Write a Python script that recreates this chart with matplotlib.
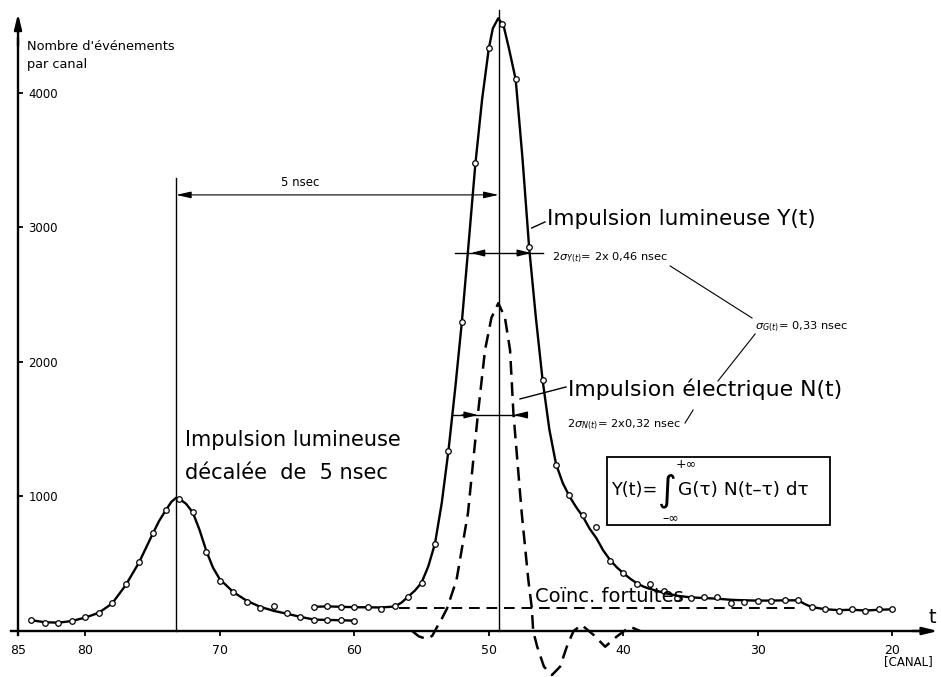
import matplotlib.pyplot as plt
from matplotlib.patches import Rectangle

# channel numbers and counts
left_ch = [84, 83, 82, 81, 80, 79, 78, 77, 76, 75, 74, 73, 72, 71, 70, 69, 68, 67, 66, 65, 64, 63, 62, 61, 60]
left_val = [82, 62, 62, 74, 102, 131, 206, 347, 511, 726, 900, 981, 882, 590, 374, 288, 218, 169, 188, 131, 106, 82, 82, 82, 77]

main_ch = [63, 62, 61, 60, 59, 58, 57, 56, 55, 54, 53, 52, 51, 50, 49, 48, 47, 46, 45, 44, 43, 42,
           41, 40, 39, 38, 37, 36, 35, 34, 33, 32, 31, 30, 29, 28, 27, 26, 25, 24, 23, 22, 21, 20]
main_val = [180, 188, 180, 175, 180, 165, 187, 255, 359, 644, 1338, 2300, 3477, 4337, 4513, 4104, 2853, 1866, 1234, 1011, 862, 776,
            520, 434, 347, 349, 297, 248, 248, 255, 255, 210, 218, 223, 223, 228, 228, 176, 161, 149, 164, 149, 161, 161]

# hand-drawn fitted curves
left_curve_ch = [84, 83, 82, 81, 80, 79, 78, 77, 76, 75, 74.5, 74, 73.6, 73.25, 72.9, 72.5, 72, 71.5, 71, 70.5, 70,
                 69, 68, 67, 66, 65, 64, 63, 62, 61, 60]
left_curve_val = [80, 65, 62, 74, 100, 135, 205, 340, 510, 720, 820, 900, 960, 990, 975, 945, 880, 750, 595, 470, 385,
                  290, 225, 180, 150, 128, 105, 85, 82, 80, 77]

main_curve_ch = [63, 62, 61, 60, 59, 58, 57, 56.5, 56, 55.5, 55, 54.5, 54, 53.5, 53, 52.5, 52, 51.5, 51, 50.5, 50, 49.7,
                 49.3, 48.9, 48.5, 48, 47.5, 47, 46.5, 46, 45.5, 45, 44.5, 44, 43.5, 43, 42.5, 42, 41.5, 41, 40.5, 40,
                 39.5, 39, 38.5, 38, 37, 36, 35, 34, 33, 32, 31, 30, 29, 28, 27, 26.5, 26, 25, 24, 23, 22, 21, 20]
main_curve_val = [180, 183, 180, 177, 176, 175, 182, 210, 255, 300, 359, 480, 650, 950, 1340, 1800, 2300, 2880, 3470, 3950, 4330, 4480,
                  4555, 4500, 4330, 4100, 3520, 2850, 2330, 1866, 1500, 1240, 1100, 1000, 920, 850, 760, 690, 600, 530, 475, 430,
                  390, 355, 330, 312, 285, 262, 250, 245, 240, 232, 228, 226, 226, 228, 228, 200, 178, 162, 155, 158, 152, 158, 161]

elec_ch = [55.7, 55.2, 54.6, 54.2, 53.9, 53.5, 53.1, 52.4, 51.55, 50.8, 50.28, 49.8, 49.29, 48.8, 48.42, 48.17, 47.55, 47.06,
           46.8, 46.7, 46.4, 45.9, 45.3, 44.7, 44.2, 43.7, 43.1, 42.2, 41.35, 40.5, 39.5, 38.75]
elec_val = [0, -40, -60, -35, 20, 90, 169, 379, 875, 1621, 2089, 2330, 2437, 2330, 2089, 1621, 875, 379,
            169, 0, -117, -265, -327, -265, -117, 0, 45, -30, -117, -42, 32, 0]

fortuit_ch = [56.7, 27]
fortuit_val = [169, 169]

peak_left = 73.25
peak_main = 49.27

x_ticks = [85, 80, 70, 60, 50, 40, 30, 20]
y_ticks = [1000, 2000, 3000, 4000]

fig = plt.figure(figsize=(9.41, 6.77), dpi=100)
ax = fig.add_axes([0, 0, 1, 1])
ax.set_xlim(86.34, 16.38)
ax.set_ylim(-342, 4691)

# axes drawn through the origin, y labels on the inside
for s in ['left', 'top']:
    ax.spines[s].set_visible(False)
ax.spines['right'].set_position(('data', 85))
ax.spines['bottom'].set_position(('data', 0))
ax.spines['right'].set_bounds(-30, 4400)
ax.spines['bottom'].set_bounds(85.5, 18)
for s in ['right', 'bottom']:
    ax.spines[s].set_linewidth(1.7)
ax.yaxis.tick_right()
ax.set_xticks(x_ticks)
ax.set_yticks(y_ticks)
ax.tick_params(axis='x', direction='out', length=3.5, width=1.3, pad=6, labelsize=9)
ax.tick_params(axis='y', direction='out', length=3.5, width=1.3, pad=4, labelsize=8.5)
ax.annotate('', xy=(85, 4590), xytext=(85, 4350),
            arrowprops=dict(arrowstyle='-|>,head_length=0.9,head_width=0.22', lw=1.7, color='k', shrinkA=0, shrinkB=0))
ax.annotate('', xy=(16.6, 0), xytext=(18.5, 0),
            arrowprops=dict(arrowstyle='-|>,head_length=0.9,head_width=0.22', lw=1.7, color='k', shrinkA=0, shrinkB=0))

ax.text(84.35, 4390, "Nombre d'événements\npar canal", fontsize=9.3, ha='left', va='top', linespacing=1.45)
ax.text(17.0, 104, 't', fontsize=14, ha='center', va='center')
ax.text(18.8, -230, '[CANAL]', fontsize=8.5, ha='center', va='center')

# curves and measured points
ax.plot(left_curve_ch, left_curve_val, color='k', lw=1.7)
ax.plot(main_curve_ch, main_curve_val, color='k', lw=1.7)
ax.plot(left_ch, left_val, 'o', ms=4, mfc='white', mec='k', mew=0.9)
ax.plot(main_ch, main_val, 'o', ms=4, mfc='white', mec='k', mew=0.9)
ax.plot(elec_ch, elec_val, color='k', lw=1.8, dashes=(5.5, 3))
ax.plot(fortuit_ch, fortuit_val, color='k', lw=1.4, dashes=(5.5, 3.5))

# peak markers and 5 nsec shift
ax.plot([peak_left, peak_left], [0, 3368], color='k', lw=1.0)
ax.plot([peak_main, peak_main], [0, 4617], color='k', lw=1.0)
ax.annotate('', xy=(peak_left, 3242), xytext=(peak_main, 3242),
            arrowprops=dict(arrowstyle='<|-|>,head_length=0.9,head_width=0.2', lw=0.8, color='k', shrinkA=0, shrinkB=0))
ax.text(64.0, 3331, '5 nsec', fontsize=8.5, ha='center', va='center')

# width of Y(t)
ax.plot([52.5, 46.0], [2810, 2810], color='k', lw=1.0)
for a, b in [(50.5, 51.35), (47.7, 46.85)]:
    ax.annotate('', xy=(b, 2810), xytext=(a, 2810),
                arrowprops=dict(arrowstyle='-|>,head_length=0.8,head_width=0.2', lw=1.0, color='k', shrinkA=0, shrinkB=0))

# width of N(t)
ax.plot([52.7, 47.7], [1606, 1606], color='k', lw=1.0)
for a, b in [(52.0, 50.8), (47.3, 48.17)]:
    ax.annotate('', xy=(b, 1606), xytext=(a, 1606),
                arrowprops=dict(arrowstyle='-|>,head_length=0.8,head_width=0.2', lw=1.0, color='k', shrinkA=0, shrinkB=0))

# labels and leaders
ax.plot([46.81, 45.82], [2996, 3041], color='k', lw=1.0)
ax.text(45.67, 3063, 'Impulsion lumineuse Y(t)', fontsize=15.5, ha='left', va='center')
ax.text(45.3, 2773, r'2$\sigma_{Y(t)}$= 2x 0,46 nsec', fontsize=8.2, ha='left', va='center')
ax.text(30.2, 2260, r'$\sigma_{G(t)}$= 0,33 nsec', fontsize=8.2, ha='left', va='center')
ax.plot([36.52, 30.43], [2714, 2327], color='k', lw=0.8)
ax.plot([30.2, 32.96], [2208, 1859], color='k', lw=0.8)
ax.plot([34.81, 35.41], [1643, 1546], color='k', lw=0.8)
ax.plot([47.68, 44.26], [1725, 1814], color='k', lw=1.0)
ax.text(44.1, 1799, 'Impulsion électrique N(t)', fontsize=15.8, ha='left', va='center')
ax.text(44.18, 1532, r'2$\sigma_{N(t)}$= 2x0,32 nsec', fontsize=8.2, ha='left', va='center')
ax.text(72.58, 1420, 'Impulsion lumineuse', fontsize=15, ha='left', va='center')
ax.text(72.58, 1175, 'décalée  de  5 nsec', fontsize=15, ha='left', va='center')
ax.text(46.56, 253, 'Coïnc. fortuites', fontsize=14, ha='left', va='center')

# convolution formula
ax.add_patch(Rectangle((24.63, 788), 16.58, 506, fill=False, lw=1.3, ec='k'))
ax.text(37.45, 1048, 'Y(t)=', fontsize=12.8, ha='right', va='center')
ax.text(36.7, 1040, '∫', fontsize=26, ha='center', va='center')
ax.text(35.93, 1048, 'G(τ) N(t–τ) dτ', fontsize=13.3, ha='left', va='center')
ax.text(35.3, 1240, '+∞', fontsize=9, ha='center', va='center')
ax.text(36.5, 842, '–∞', fontsize=9, ha='center', va='center')

fig.savefig('out.png', dpi=100)
